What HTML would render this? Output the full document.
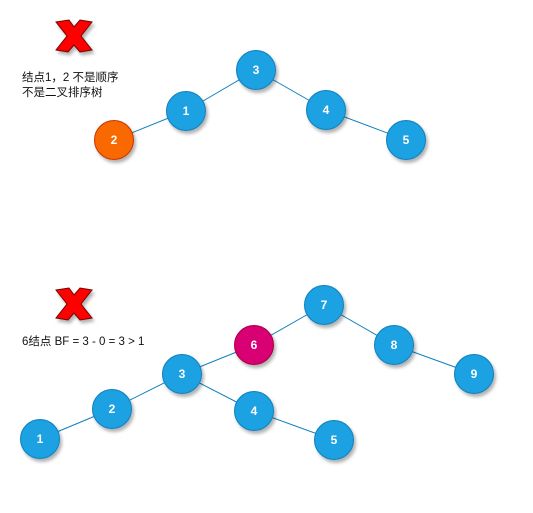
<!DOCTYPE html>
<html><head><meta charset="utf-8">
<style>
html,body{margin:0;padding:0;background:#fff;}
svg{display:block;}
text{font-family:"Liberation Sans","Noto Sans CJK SC",sans-serif;}
</style></head>
<body>
<svg id="chart" width="533" height="513" viewBox="0 0 533 513" xmlns="http://www.w3.org/2000/svg">
<defs>
<filter id="sh" x="-30%" y="-30%" width="170%" height="170%">
<feDropShadow dx="2" dy="3" stdDeviation="1.5" flood-color="#000" flood-opacity="0.3"/>
</filter>
</defs>
<g id="marks"></g>
<g filter="url(#sh)">
<polygon points="56,22 69,20 74,27 80,20 92,22 81,36 92,50 80,52 74,45 68,52 56,50 67,36" fill="#f00" stroke="#700" stroke-width="1"/>
</g>
<g filter="url(#sh)">
<polygon points="56,290 69,288 74,295 80,288 92,290 81,304 92,318 80,320 74,313 68,320 56,318 67,304" fill="#f00" stroke="#700" stroke-width="1"/>
</g>
<text x="22" y="81" font-size="11.5" fill="#111">结点1，2 不是顺序</text>
<text x="22" y="96" font-size="11.5" fill="#111">不是二叉排序树</text>
<text x="22" y="345" font-size="11.5" fill="#111">6结点 BF = 3 - 0 = 3 &gt; 1</text>
</svg>
<script>
const nodeLabels = ["3","1","4","5","2","7","6","8","9","3","4","5","2","1"];
const nodeX = [256,186,326,406,114,324,254,394,474,182,254,334,112,40];
const nodeY = [70,111,110,140,140,305,345,345,374,374,411,440,409,439];
const nodeKind = ["b","b","b","b","o","b","m","b","b","b","b","b","b","b"];
const edgeFrom = [0,0,2,1,5,5,7,6,9,9,10,12];
const edgeTo = [1,2,3,4,6,7,8,9,10,12,11,13];
const fills = {b:["#1ba1e2","#1180bd"], o:["#fa6800","#c73500"], m:["#d80073","#a50040"]};
const NS = "http://www.w3.org/2000/svg";
const g = document.getElementById("marks");
for (let i = 0; i < edgeFrom.length; i++) {
  const l = document.createElementNS(NS, "line");
  
  
  l.setAttribute("x1", nodeX[edgeFrom[i]]); l.setAttribute("y1", nodeY[edgeFrom[i]]);
  l.setAttribute("x2", nodeX[edgeTo[i]]); l.setAttribute("y2", nodeY[edgeTo[i]]);
  l.setAttribute("stroke", "#1180bd"); l.setAttribute("stroke-width", "1");
  g.appendChild(l);
}
for (let i = 0; i < nodeLabels.length; i++) {
  const grp = document.createElementNS(NS, "g");
  
  
  const c = document.createElementNS(NS, "circle");
  c.setAttribute("cx", nodeX[i]); c.setAttribute("cy", nodeY[i]); c.setAttribute("r", 19.5);
  c.setAttribute("fill", fills[nodeKind[i]][0]); c.setAttribute("stroke", fills[nodeKind[i]][1]);
  c.setAttribute("filter", "url(#sh)");
  grp.appendChild(c);
  const t = document.createElementNS(NS, "text");
  
  
  t.setAttribute("x", nodeX[i]); t.setAttribute("y", nodeY[i] + 4);
  t.setAttribute("text-anchor", "middle"); t.setAttribute("font-size", "12");
  t.setAttribute("font-weight", "bold");
  t.setAttribute("fill", "#fff");
  t.textContent = nodeLabels[i];
  grp.appendChild(t);
  g.appendChild(grp);
}
</script>
</body></html>
